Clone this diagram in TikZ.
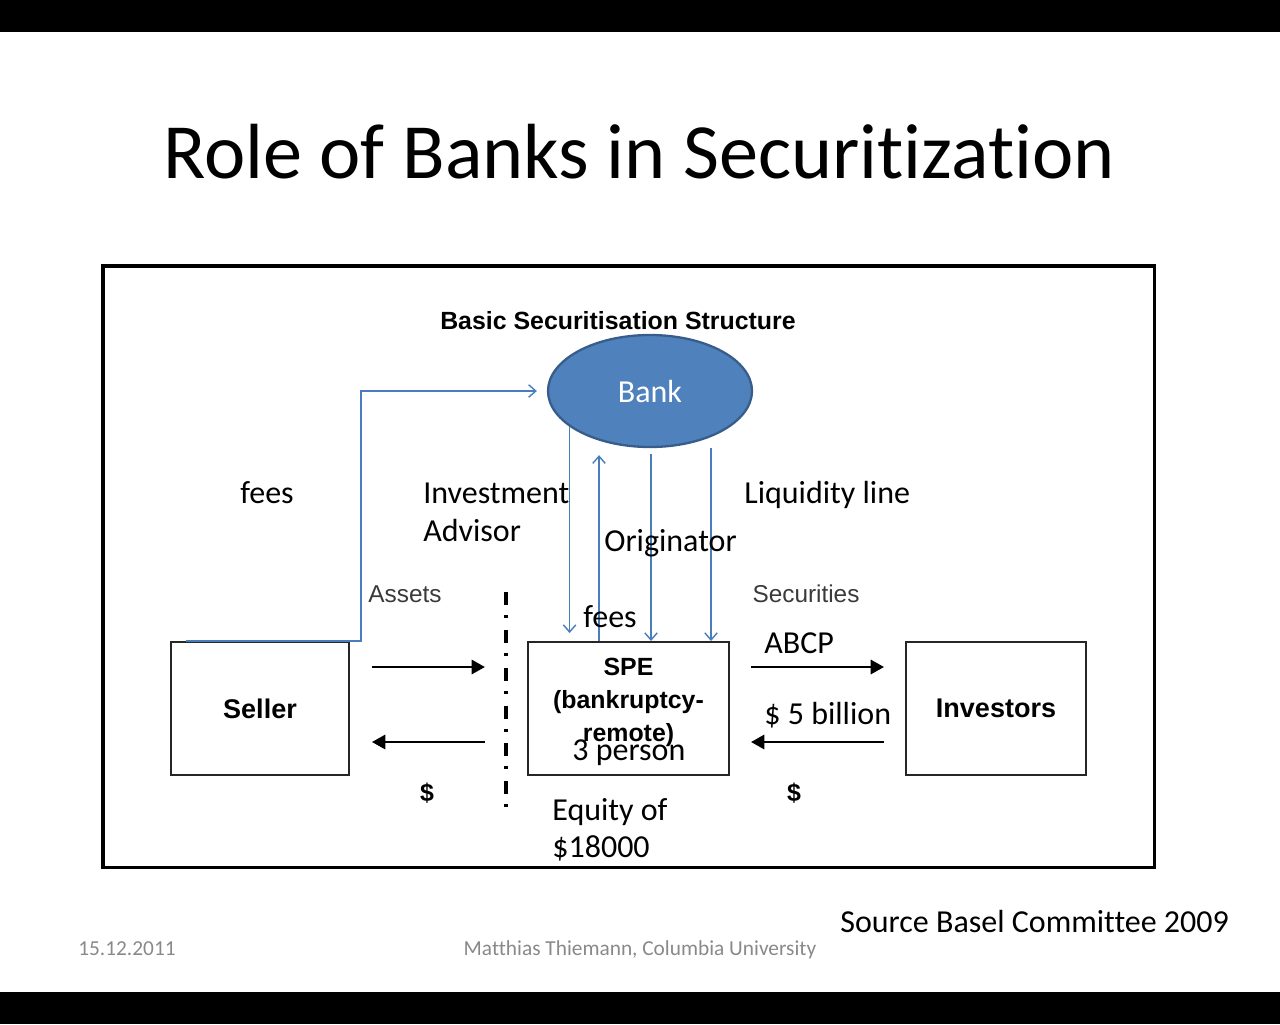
\documentclass[tikz,border=0pt]{standalone}
\usepackage{fontspec}
\setmainfont{Carlito}[Ligatures=NoCommon]
\newfontfamily\arialfont{Liberation Sans}
\usepackage{xcolor}
\usetikzlibrary{arrows.meta,calc,positioning,shapes.geometric}
\definecolor{bankblue}{HTML}{4F81BD}
\definecolor{bankedge}{HTML}{385D8A}
\definecolor{wireblue}{HTML}{4A7EBB}
\definecolor{taggray}{HTML}{3A3A3A}
\definecolor{footgray}{HTML}{898989}
\tikzset{%
	box/.style       = {draw=black!85, line width=1.1pt, rectangle, inner sep=0pt, minimum height=74.8pt, font=\arialfont\bfseries\fontsize{15.2}{18}\selectfont},
	bankshape/.style = {draw=bankedge, fill=bankblue, line width=1.3pt, ellipse, inner sep=0pt, minimum width=114.75pt, minimum height=63pt, text=white, font=\fontsize{18}{21.6}\selectfont},
	flow/.style      = {line width=1.4pt, -{Triangle[length=7.5pt,width=8pt]}},
	wire/.style      = {draw=wireblue, line width=0.8pt, -{Straight Barb[length=4pt,width=7pt]}},
	txt/.style       = {anchor=base west, inner sep=0pt, font=\fontsize{18}{21.6}\selectfont},
	tag/.style       = {inner sep=0pt, text=taggray, font=\arialfont\fontsize{13.7}{16}\selectfont},
	dollar/.style    = {inner sep=0pt, font=\arialfont\bfseries\fontsize{14}{16}\selectfont},
	foot/.style      = {anchor=base, inner sep=0pt, text=footgray, font=\fontsize{12}{14}\selectfont},
}
\begin{document}
\begin{tikzpicture}[x=0.5625pt,y=-0.5625pt]
	\useasboundingbox (0,0) rectangle (1280,1024);
	\fill[black] (0,0) rectangle (1280,32);  % top bar
	\fill[black] (0,992) rectangle (1280,1024);  % bottom bar
	\node[anchor=base, inner sep=0pt, font=\fontsize{44}{52}\selectfont] (title) at (639,178) {Role of Banks in Securitization};
	\draw[line width=1.7pt] (103,266) rectangle (1154,867);  % frame
	\node[inner sep=0pt, font=\arialfont\bfseries\fontsize{14}{16}\selectfont] (heading) at (618,321) {Basic Securitisation Structure};
	\node[bankshape] (bank) at (650,391) {Bank};
	\node[box, minimum width=100.1pt] (seller) at (260,708.5) {Seller};
	\node[box, minimum width=113.1pt] (spe) at (628.5,708.5) {};
	\node[inner sep=0pt, align=center, font=\arialfont\bfseries\fontsize{14}{18.6}\selectfont] (spetext) at (628.5,702) {SPE\\(bankruptcy-\\remote)};
	\node[box, minimum width=101.25pt] (investors) at (996,708.5) {Investors};
	\draw[line width=1.7pt, dash pattern=on 7.3pt off 5.6pt on 1.7pt off 6.7pt] (506,592) -- (506,810);  % separation line
	% asset and cash flows
	\draw[flow] ([shift={(22,-41.5)}]seller.east) -- ([shift={(135,-41.5)}]seller.east);
	\draw[flow] ([shift={(135,33.5)}]seller.east) -- ([shift={(22,33.5)}]seller.east);
	\draw[flow] ([shift={(21,-41.5)}]spe.east) -- ([shift={(-21,-41.5)}]investors.west);
	\draw[flow] ([shift={(-21,33.5)}]investors.west) -- ([shift={(21,33.5)}]spe.east);
	\node[tag] (assets) at (405,594) {Assets};
	\node[tag] (securities) at (806,594) {Securities};
	\node[dollar] (cashleft) at (427,793) {\$};
	\node[dollar] (cashright) at (794,793) {\$};
	% roles of the bank
	\coordinate (feesfoot) at ([shift={(72,0)}]spe.north west);
	\coordinate (origtop) at ([shift={(1,6)}]bank.south);
	\coordinate (liqtop) at ([shift={(61,0)}]bank.south);
	\draw[wire] ([shift={(16,0)}]seller.north west) -- ++(175,0) |- ([shift={(-10,0)}]bank.west);
	\draw[wire] (bank.204) -- ($(bank.204 |- spe.north)+(0,-8)$);
	\draw[wire] (feesfoot) -- ($(feesfoot |- bank.south)+(0,7)$);
	\draw[wire] (origtop) -- (origtop |- spe.north);
	\draw[wire] (liqtop) -- (liqtop |- spe.north);
	\node[txt] (feesseller) at (240,503) {fees};
	\node[txt] (advisor) at (423,503) {Investment};
	\node[txt] (advisorb) at (423,541) {Advisor};
	\node[txt] (liquidity) at (744,503) {Liquidity line};
	\node[txt] (originator) at (604,551) {Originator};
	\node[txt] (feesspe) at (583,627) {fees};
	\node[txt] (abcp) at (764,653) {ABCP};
	\node[txt] (billion) at (764,724) {\$ 5 billion};
	\node[txt] (person) at (572,760) {3 person};
	\node[txt] (equity) at (552,820) {Equity of};
	\node[txt] (equityb) at (552,857) {\$18000};
	% footer
	\node[txt] (source) at (840,932) {Source Basel Committee 2009};
	\node[foot, anchor=base west] (date) at (78,955) {15.12.2011};
	\node[foot] (author) at (640,955) {Matthias Thiemann, Columbia University};
\end{tikzpicture}
\end{document}
